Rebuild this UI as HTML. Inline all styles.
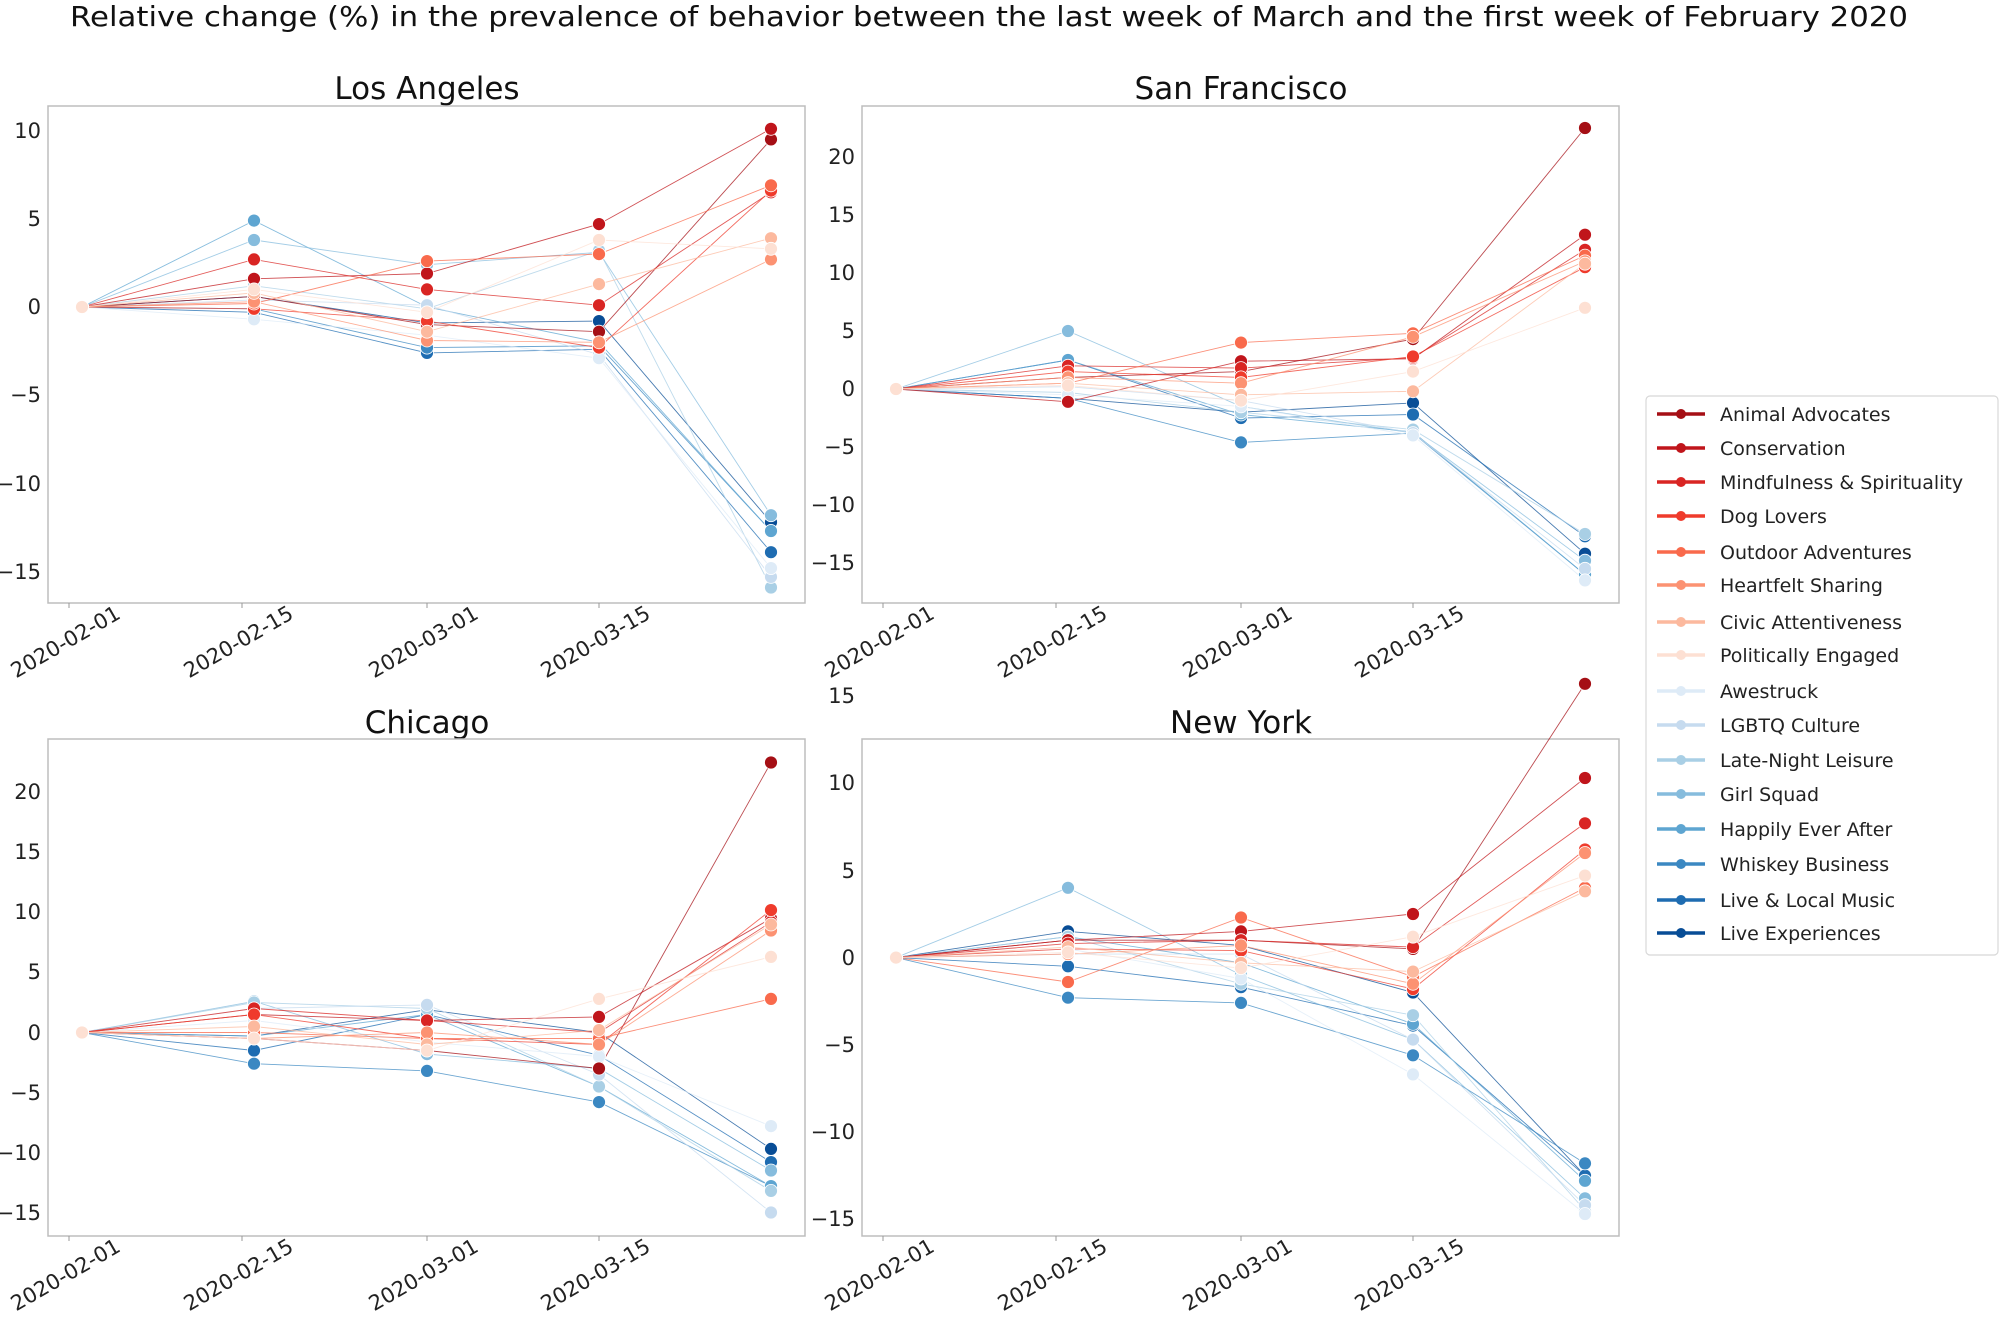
<!DOCTYPE html>
<html><head><meta charset="utf-8"><style>
html,body{margin:0;padding:0;background:#fff;}
svg{display:block;font-family:"DejaVu Sans","Liberation Sans",sans-serif;}
.yt{font-size:21px;text-anchor:end;fill:#222;}
.xt{font-size:21px;text-anchor:middle;fill:#222;}
.st{font-size:31px;text-anchor:middle;fill:#111;}
.lg{font-size:19px;fill:#222;}
</style></head><body>
<svg id="s" width="1999" height="1318" viewBox="0 0 1999 1318" xmlns="http://www.w3.org/2000/svg">
<text x="989" y="26" style="font-size:28px;text-anchor:middle;fill:#111" textLength="1838" lengthAdjust="spacingAndGlyphs">Relative change (%) in the prevalence of behavior between the last week of March and the first week of February 2020</text>
<text class="st" x="427" y="99">Los Angeles</text>
<text class="st" x="1241" y="99">San Francisco</text>
<text class="st" x="427" y="733">Chicago</text>
<text class="st" x="1241" y="733">New York</text>
<g id="frames" fill="none" stroke="#bdbdbd" stroke-width="1.5">
<rect x="48" y="106" width="757" height="497"/>
<rect x="862" y="106" width="757" height="497"/>
<rect x="48" y="739" width="757" height="497"/>
<rect x="862" y="739" width="757" height="497"/>
</g>
<g class="yt">
<text x="41" y="138">10</text><text x="41" y="226">5</text><text x="41" y="314">0</text><text x="41" y="402">−5</text><text x="41" y="491">−10</text><text x="41" y="579">−15</text>
</g>
<g class="yt">
<text x="855" y="164">20</text><text x="855" y="222">15</text><text x="855" y="280">10</text><text x="855" y="338">5</text><text x="855" y="396">0</text><text x="855" y="454">−5</text><text x="855" y="512">−10</text><text x="855" y="570">−15</text>
</g>
<g class="yt">
<text x="41" y="799">20</text><text x="41" y="859">15</text><text x="41" y="919">10</text><text x="41" y="979">5</text><text x="41" y="1040">0</text><text x="41" y="1100">−5</text><text x="41" y="1160">−10</text><text x="41" y="1220">−15</text>
</g>
<g class="yt">
<text x="855" y="703">15</text><text x="855" y="790">10</text><text x="855" y="878">5</text><text x="855" y="965">0</text><text x="855" y="1052">−5</text><text x="855" y="1139">−10</text><text x="855" y="1226">−15</text>
</g>
<g class="xt">
<text transform="translate(69,648) rotate(-30)">2020-02-01</text>
<text transform="translate(242,648) rotate(-30)">2020-02-15</text>
<text transform="translate(427,648) rotate(-30)">2020-03-01</text>
<text transform="translate(599,648) rotate(-30)">2020-03-15</text>
<text transform="translate(883,648) rotate(-30)">2020-02-01</text>
<text transform="translate(1056,648) rotate(-30)">2020-02-15</text>
<text transform="translate(1241,648) rotate(-30)">2020-03-01</text>
<text transform="translate(1413,648) rotate(-30)">2020-03-15</text>
<text transform="translate(69,1281) rotate(-30)">2020-02-01</text>
<text transform="translate(242,1281) rotate(-30)">2020-02-15</text>
<text transform="translate(427,1281) rotate(-30)">2020-03-01</text>
<text transform="translate(599,1281) rotate(-30)">2020-03-15</text>
<text transform="translate(883,1281) rotate(-30)">2020-02-01</text>
<text transform="translate(1056,1281) rotate(-30)">2020-02-15</text>
<text transform="translate(1241,1281) rotate(-30)">2020-03-01</text>
<text transform="translate(1413,1281) rotate(-30)">2020-03-15</text>
</g>
<g id="plot"></g>
<rect x="1646" y="396" width="352" height="559" rx="4" fill="#fff" stroke="#d8d8d8" stroke-width="1.2"/>
<g id="leg"></g>
<g class="lg">
<text x="1720" y="421">Animal Advocates</text>
<text x="1720" y="455">Conservation</text>
<text x="1720" y="489">Mindfulness &amp; Spirituality</text>
<text x="1720" y="523">Dog Lovers</text>
<text x="1720" y="559">Outdoor Adventures</text>
<text x="1720" y="592">Heartfelt Sharing</text>
<text x="1720" y="629">Civic Attentiveness</text>
<text x="1720" y="662">Politically Engaged</text>
<text x="1720" y="698">Awestruck</text>
<text x="1720" y="732">LGBTQ Culture</text>
<text x="1720" y="767">Late-Night Leisure</text>
<text x="1720" y="801">Girl Squad</text>
<text x="1720" y="836">Happily Ever After</text>
<text x="1720" y="871">Whiskey Business</text>
<text x="1720" y="907">Live &amp; Local Music</text>
<text x="1720" y="940">Live Experiences</text>
</g>
</svg>
<script>
var C=["#a50f15","#c0151b","#d92523","#ef3b2c","#f96a4c","#fc9272","#fcb99e","#fde0d3","#deebf7","#c6dbef","#a9cfe5","#86bcdd","#5ea5d1","#3b88c2","#1e6cb1","#084d96"];
var legY=[414,448,482,516,552,585,622,655,691,725,760,794,829,864,900,933];
var ns="http://www.w3.org/2000/svg";
function el(t,a,p){var e=document.createElementNS(ns,t);for(var k in a)e.setAttribute(k,a[k]);p.appendChild(e);return e;}
var leg=document.getElementById("leg");
C.forEach(function(c,i){el("line",{x1:1657,x2:1705,y1:legY[i],y2:legY[i],stroke:c,"stroke-width":3.5},leg);el("circle",{cx:1681,cy:legY[i],r:5,fill:c},leg);});
var P=[
 {x:48,y0:307,u:17.64,d:[[0,.6,-1,-1.4,9.5],[0,1.6,1.9,4.7,10.1],[0,2.7,1,.1,6.5],[0,-.1,-.8,-2.3,6.6],[0,.2,2.6,3,6.9],[0,.3,-1.9,-2,2.7],[0,.8,-1.4,1.3,3.9],[0,1,-.3,3.8,3.3],[0,-.7,-1.6,-2.9,-14.8],[0,.4,.1,-2.7,-15.3],[0,1.2,-.1,3.2,-15.9],[0,3.8,2.4,3.1,-11.8],[0,4.9,0,-2,-12.7],[0,-.1,-2.3,-2.2,-12.7],[0,-.3,-2.6,-2.4,-13.9],[0,.6,-.9,-.8,-12.2]]},
 {x:862,y0:389,u:11.6,d:[[0,1,1.5,4.3,22.5],[0,-1.1,2.4,2.6,13.3],[0,2,1.8,2.7,12],[0,1.5,1,2.8,10.5],[0,.5,4,4.8,11.5],[0,1,.5,4.5,11],[0,.5,-.5,-.2,10.8],[0,.3,-1,1.5,7],[0,-.5,-1.5,-4,-16.5],[0,.2,-1,-3.8,-15.5],[0,-.3,-2,-3.5,-12.5],[0,5,-1.5,-3.8,-14.8],[0,2.5,-2.2,-3.7,-16],[0,-.8,-4.6,-3.8,-16],[0,2.5,-2.5,-2.2,-12.7],[0,-.8,-2,-1.2,-14.2]]},
 {x:48,y0:1032.5,u:12.0,d:[[0,-.5,-1.5,-3,22.5],[0,1.5,1,1.3,9.5],[0,2,1,0,9.2],[0,1.5,-.5,-1,10.2],[0,0,-.5,-.5,2.8],[0,-.5,0,-1,8.5],[0,.5,-1,.2,9],[0,-.5,-1.5,2.8,6.3],[0,1,-.8,-2,-7.8],[0,2,2.3,-3.5,-15],[0,2.5,2,-4.5,-13.2],[0,2.6,-1.8,-3,-11.5],[0,-.3,1.5,-4.5,-12.8],[0,-2.6,-3.2,-5.8,-12.8],[0,-1.5,1.5,-1.9,-10.8],[0,-.3,1.9,0,-9.7]]},
 {x:862,y0:957.6,u:17.44,d:[[0,1,1,.5,15.7],[0,1,1.5,2.5,10.3],[0,.8,1,.6,7.7],[0,.5,.4,-1.8,6.2],[0,-1.4,2.3,-1.1,4],[0,.2,.7,-1.5,6],[0,.6,-.3,-.8,3.8],[0,.3,-.6,1.2,4.7],[0,.5,-1.2,-6.7,-14.7],[0,.2,.2,-4.7,-14.2],[0,1.2,-1.5,-3.3,-14.5],[0,4,-1,-4.7,-13.8],[0,1.2,-.3,-3.8,-12.8],[0,-2.3,-2.6,-5.6,-11.8],[0,-.5,-1.7,-3.9,-12.5],[0,1.5,.7,-2,-12.5]]}
];
var OX=[34,206,379,551,723],TX=[21,194,379,551];
var ORD=[15,14,13,12,11,10,9,8,0,1,2,3,4,5,6,7];
var g=document.getElementById("plot");
P.forEach(function(p){
 var bot=(p.y0>700?1236:603);
 TX.forEach(function(t){el("line",{x1:p.x+t,x2:p.x+t,y1:bot,y2:bot+5,stroke:"#999","stroke-width":1},g);});
 ORD.forEach(function(i){var s=p.d[i];
  var pts=s.map(function(v,j){return (p.x+OX[j])+","+(p.y0-v*p.u).toFixed(1);}).join(" ");
  el("polyline",{points:pts,fill:"none",stroke:C[i],"stroke-width":0.9,"stroke-opacity":0.75},g);
 });
 ORD.forEach(function(i){var s=p.d[i];
  s.forEach(function(v,j){el("circle",{cx:p.x+OX[j],cy:(p.y0-v*p.u).toFixed(1),r:6.5,fill:C[i],stroke:"#fff","stroke-width":0.8},g);});
 });
});
</script>
</body></html>
